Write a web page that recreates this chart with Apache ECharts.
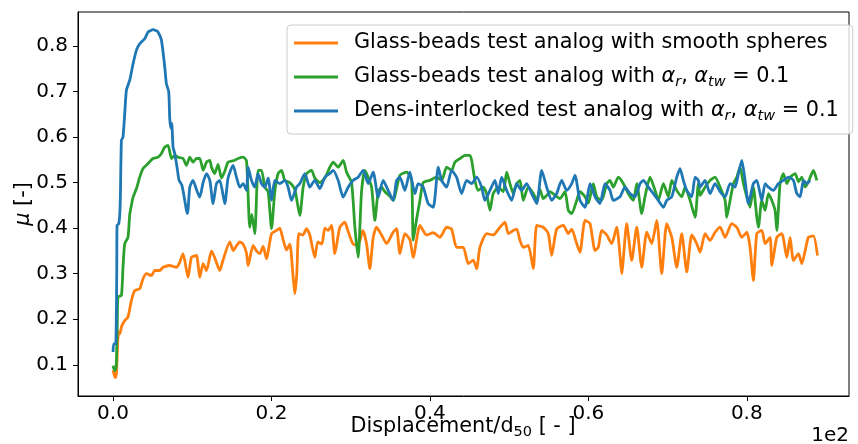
<!DOCTYPE html>
<html>
<head>
<meta charset="utf-8">
<script src="https://cdn.jsdelivr.net/npm/echarts@6.0.0/dist/echarts.min.js"></script>
<style>html,body{margin:0;padding:0;background:#fff;}#c{width:858px;height:444px;}</style>
</head>
<body>
<div id="c"></div>
<script>
// ---- data (x in Displacement/d50, axis shows x/100 with "1e2" offset) ----
const seriesNames = ['Glass-beads test analog with smooth spheres', 'Glass-beads test analog with alpha_r, alpha_tw = 0.1', 'Dens-interlocked test analog with alpha_r, alpha_tw = 0.1'];
const xTicks = [0, 20, 40, 60, 80];
const yTicks = [0.1, 0.2, 0.3, 0.4, 0.5, 0.6, 0.7, 0.8];

const orangeX = [0,0.15,0.28,0.43,0.59,0.72,0.85,1.10,1.48,1.89,2.32,2.74,3.37,3.79,4.22,4.85,5.27,5.90,6.32,7.16,8.01,8.42,8.84,9.47,9.90,10.53,10.95,11.37,11.80,12.43,12.84,13.48,13.89,14.74,15.16,15.62,16.00,16.42,16.85,17.05,17.68,18.11,18.53,18.95,19.37,20.01,20.64,21.05,21.47,21.90,22.32,22.70,22.95,23.20,23.45,23.96,24.43,24.84,25.47,25.85,26.36,26.74,27.15,27.58,28.00,28.63,29.26,29.64,30.27,30.91,31.54,32.00,32.42,32.84,33.27,33.90,34.53,35.36,35.79,36.21,36.84,37.47,37.89,38.74,39.58,40.42,41.26,42.11,42.74,43.37,44.21,44.84,45.47,45.90,46.31,47.16,47.99,48.84,49.47,49.89,50.52,50.95,51.37,51.78,52.41,53.05,53.48,54.31,54.94,55.37,56.00,56.84,57.47,57.90,58.53,58.94,59.58,60.21,60.84,61.26,61.68,62.32,62.95,63.58,64.00,64.21,64.84,65.47,66.11,66.74,67.37,68.00,68.63,69.26,69.89,70.53,71.16,71.79,72.42,73.05,73.68,74.10,74.73,75.36,75.99,76.63,77.26,78.10,78.74,79.37,80.00,80.41,80.83,81.26,81.89,82.31,82.94,83.16,83.79,84.42,85.05,85.47,85.88,86.52,86.94,87.36,87.78,88.41,88.92];
const orangeY = [0.088,0.078,0.072,0.080,0.150,0.172,0.168,0.185,0.197,0.205,0.241,0.263,0.267,0.289,0.300,0.296,0.307,0.307,0.314,0.318,0.314,0.325,0.344,0.292,0.336,0.340,0.292,0.322,0.307,0.350,0.335,0.307,0.330,0.370,0.351,0.362,0.370,0.365,0.345,0.318,0.362,0.350,0.344,0.360,0.333,0.388,0.395,0.400,0.375,0.352,0.365,0.300,0.256,0.300,0.388,0.385,0.399,0.385,0.336,0.370,0.365,0.400,0.395,0.406,0.344,0.402,0.413,0.395,0.366,0.362,0.395,0.366,0.311,0.380,0.402,0.385,0.366,0.391,0.399,0.344,0.388,0.375,0.336,0.406,0.385,0.390,0.380,0.402,0.398,0.358,0.358,0.322,0.330,0.311,0.358,0.388,0.385,0.402,0.413,0.388,0.395,0.398,0.373,0.358,0.362,0.311,0.406,0.402,0.388,0.340,0.398,0.406,0.388,0.398,0.366,0.347,0.417,0.410,0.351,0.358,0.395,0.385,0.366,0.402,0.340,0.300,0.410,0.329,0.402,0.314,0.391,0.366,0.417,0.300,0.410,0.380,0.314,0.388,0.304,0.385,0.366,0.347,0.388,0.373,0.391,0.402,0.380,0.410,0.402,0.380,0.391,0.358,0.285,0.388,0.395,0.366,0.380,0.318,0.380,0.388,0.336,0.380,0.329,0.344,0.322,0.350,0.380,0.383,0.340];

const greenX = [0,0.09,0.21,0.40,0.53,0.63,1.06,1.26,1.48,1.89,2.11,2.32,2.53,2.96,3.37,3.79,4.42,5.05,5.68,6.11,6.53,6.95,7.38,7.79,8.21,8.84,9.27,9.69,10.10,10.53,10.95,11.37,11.80,12.22,12.43,12.84,13.26,13.69,14.11,14.52,15.16,15.79,16.42,16.85,17.26,17.52,17.90,18.31,18.74,19.16,19.58,20.01,20.42,20.84,21.27,21.68,22.32,22.95,23.58,24.00,24.43,25.06,25.47,26.11,26.74,27.37,27.79,28.42,29.05,29.48,30.11,30.53,30.94,31.37,31.79,32.21,32.64,33.05,33.47,33.90,34.32,34.95,35.36,36.21,37.06,37.69,37.89,38.32,38.74,39.15,40.00,40.85,41.48,42.11,42.74,43.16,43.79,44.42,45.05,45.27,45.68,46.10,46.73,47.16,47.58,47.99,48.63,49.26,49.69,50.10,50.52,50.95,51.37,51.78,52.41,53.05,53.48,53.89,54.31,54.74,55.15,56.42,57.05,57.47,57.90,58.53,58.94,59.58,59.99,60.62,61.05,61.68,62.32,62.73,63.15,63.78,64.41,65.04,65.68,66.11,66.74,67.15,67.78,68.42,68.83,69.47,70.10,70.53,71.16,71.79,72.21,72.84,73.47,73.89,74.10,74.73,75.36,75.99,76.63,77.26,77.47,77.89,78.31,78.74,79.15,79.57,80.00,80.41,80.83,81.26,81.46,81.89,82.31,82.73,83.16,83.57,83.79,84.20,84.62,85.05,85.47,86.10,86.52,86.94,87.36,87.78,88.41,88.84];
const greenY = [0.098,0.092,0.087,0.095,0.180,0.249,0.252,0.314,0.366,0.380,0.430,0.450,0.468,0.487,0.512,0.531,0.542,0.553,0.556,0.564,0.578,0.582,0.553,0.560,0.556,0.553,0.538,0.556,0.545,0.553,0.553,0.527,0.545,0.549,0.534,0.520,0.540,0.510,0.525,0.545,0.548,0.553,0.556,0.548,0.402,0.430,0.388,0.527,0.527,0.490,0.480,0.399,0.480,0.520,0.527,0.505,0.500,0.485,0.428,0.490,0.520,0.527,0.510,0.500,0.510,0.534,0.545,0.534,0.549,0.523,0.500,0.402,0.336,0.480,0.527,0.512,0.490,0.417,0.480,0.490,0.480,0.470,0.461,0.516,0.523,0.505,0.373,0.420,0.461,0.500,0.505,0.512,0.505,0.534,0.527,0.545,0.553,0.560,0.560,0.549,0.505,0.483,0.490,0.476,0.439,0.476,0.490,0.480,0.523,0.498,0.476,0.498,0.505,0.461,0.490,0.476,0.461,0.485,0.465,0.472,0.480,0.465,0.480,0.439,0.432,0.461,0.480,0.469,0.455,0.498,0.469,0.461,0.498,0.505,0.490,0.512,0.498,0.476,0.461,0.498,0.432,0.469,0.512,0.483,0.461,0.498,0.469,0.505,0.483,0.469,0.490,0.461,0.424,0.498,0.472,0.490,0.505,0.512,0.490,0.461,0.424,0.461,0.498,0.512,0.534,0.498,0.469,0.446,0.490,0.424,0.402,0.461,0.439,0.476,0.461,0.439,0.395,0.498,0.520,0.498,0.512,0.520,0.502,0.512,0.490,0.502,0.527,0.505];

const blueX = [0,0.09,0.34,0.47,0.51,0.72,0.85,0.93,1.06,1.26,1.48,1.69,2.11,2.53,2.96,3.37,4.00,4.42,4.64,5.05,5.39,5.68,6.11,6.53,6.74,7.03,7.16,7.29,7.41,7.58,7.79,8.08,8.34,8.68,9.06,9.35,9.47,9.69,10.10,10.53,10.95,11.37,11.80,12.22,12.63,13.06,13.48,14.11,14.52,15.16,15.58,16.00,16.42,16.85,17.05,17.48,17.90,18.31,18.74,19.16,19.58,20.01,20.42,21.05,21.68,22.10,22.53,23.16,23.58,24.21,24.84,25.47,26.11,26.74,27.37,27.79,28.42,29.05,29.68,30.31,30.94,31.58,32.21,32.84,33.47,34.10,34.73,35.36,35.79,36.21,36.84,37.47,38.10,38.52,39.15,39.78,40.42,41.05,41.48,42.11,42.74,43.37,44.00,44.63,45.27,45.90,46.53,46.94,47.58,48.21,48.63,49.05,49.69,50.32,50.95,51.58,52.21,52.84,53.48,54.11,54.74,55.37,56.00,56.63,57.27,57.90,58.31,58.94,59.58,60.21,60.84,61.47,62.10,62.73,63.15,63.99,64.62,65.26,65.89,66.52,66.94,67.57,68.20,68.83,69.47,69.89,70.53,71.16,71.57,71.99,72.42,73.05,73.47,73.89,74.10,74.73,75.36,75.99,76.63,77.26,77.89,78.52,78.94,79.37,79.78,80.20,80.83,81.26,81.89,82.31,82.73,83.36,83.99,84.62,85.26,85.88,86.31,86.73,87.15,87.57,87.99];
const blueY = [0.128,0.146,0.146,0.300,0.406,0.410,0.430,0.470,0.593,0.600,0.652,0.703,0.725,0.761,0.791,0.805,0.816,0.831,0.833,0.836,0.834,0.831,0.813,0.754,0.717,0.700,0.641,0.620,0.630,0.578,0.564,0.534,0.505,0.495,0.461,0.432,0.440,0.490,0.505,0.485,0.468,0.500,0.520,0.505,0.454,0.498,0.505,0.454,0.510,0.538,0.512,0.490,0.498,0.483,0.534,0.505,0.490,0.520,0.498,0.490,0.510,0.461,0.505,0.498,0.505,0.490,0.461,0.490,0.498,0.520,0.490,0.505,0.487,0.512,0.520,0.527,0.505,0.468,0.490,0.505,0.512,0.527,0.498,0.523,0.468,0.505,0.483,0.461,0.505,0.512,0.483,0.523,0.476,0.498,0.490,0.454,0.446,0.534,0.505,0.490,0.527,0.512,0.476,0.505,0.498,0.512,0.490,0.461,0.483,0.505,0.476,0.512,0.483,0.461,0.498,0.483,0.498,0.476,0.454,0.527,0.490,0.461,0.476,0.505,0.483,0.498,0.516,0.461,0.446,0.498,0.469,0.454,0.498,0.483,0.461,0.469,0.490,0.476,0.469,0.498,0.505,0.490,0.476,0.461,0.446,0.461,0.469,0.512,0.531,0.505,0.483,0.469,0.512,0.505,0.490,0.505,0.476,0.498,0.480,0.469,0.498,0.490,0.520,0.549,0.505,0.454,0.498,0.505,0.461,0.498,0.490,0.483,0.498,0.505,0.512,0.505,0.476,0.469,0.505,0.498,0.505];

// ---- chart ----
const FONT = 'DejaVu Sans';
function zip(xs, ys) { return xs.map((x, i) => [x, ys[i]]); }

const legendRich = {
  t: { fontFamily: FONT, fontSize: 20.8, lineHeight: 26, color: '#000' },
  m: { fontFamily: FONT, fontStyle: 'italic', fontSize: 20.8, lineHeight: 26, color: '#000' },
  s: { fontFamily: FONT, fontStyle: 'italic', fontSize: 14.5, lineHeight: 14, verticalAlign: 'bottom', color: '#000' }
};
const legendText = {};
legendText[seriesNames[0]] = '{t|Glass-beads test analog with smooth spheres}';
legendText[seriesNames[1]] = '{t|Glass-beads test analog with }{m|α}{s|r}{t|, }{m|α}{s|tw}{t| = 0.1}';
legendText[seriesNames[2]] = '{t|Dens-interlocked test analog with }{m|α}{s|r}{t|, }{m|α}{s|tw}{t| = 0.1}';

const colors = ['#ff7f0e', '#2ca02c', '#1f77b4'];
const datasets = [zip(orangeX, orangeY), zip(greenX, greenY), zip(blueX, blueY)];

const chart = echarts.init(document.getElementById('c'), null, { renderer: 'canvas' });
chart.setOption({
  animation: false,
  backgroundColor: '#ffffff',
  grid: { left: 78, right: 9, top: 12, bottom: 48, show: true, borderColor: '#000', borderWidth: 1, backgroundColor: 'transparent' },
  xAxis: {
    type: 'value', min: -4.42, max: 92.9,
    axisLine: { show: true, onZero: false, lineStyle: { color: '#000', width: 1 } },
    axisTick: { show: true, length: 5, lineStyle: { color: '#000', width: 1 }, customValues: xTicks },
    axisLabel: { customValues: xTicks, margin: 8, color: '#000', fontFamily: FONT, fontSize: 20,
      formatter: v => (v / 100).toFixed(1) },
    splitLine: { show: false }
  },
  yAxis: {
    type: 'value', min: 0.0314, max: 0.8748,
    axisLine: { show: true, onZero: false, lineStyle: { color: '#000', width: 1 } },
    axisTick: { show: true, length: 5, lineStyle: { color: '#000', width: 1 }, customValues: yTicks },
    axisLabel: { customValues: yTicks, margin: 10, color: '#000', fontFamily: FONT, fontSize: 20,
      formatter: v => v.toFixed(1) },
    splitLine: { show: false }
  },
  legend: {
    orient: 'vertical', left: 287, top: 25,
    data: seriesNames,
    icon: 'rect', itemWidth: 44, itemHeight: 3, itemGap: 8,
    padding: [5, 14, 10, 7],
    backgroundColor: 'rgba(255,255,255,0.8)', borderColor: '#cccccc', borderWidth: 1, borderRadius: 4,
    formatter: n => legendText[n],
    textStyle: { fontFamily: FONT, fontSize: 20.8, lineHeight: 26, color: '#000', padding: [0, 0, 0, 11], rich: legendRich }
  },
  series: seriesNames.map((n, i) => ({
    name: n, type: 'line', data: datasets[i], showSymbol: false, symbol: 'none', smooth: 0.2,
    lineStyle: { color: colors[i], width: 2.8, join: 'round' }, itemStyle: { color: colors[i] },
    z: 2 + i, clip: true
  })),
  graphic: [
    { type: 'text', x: 24, y: 204, rotation: Math.PI / 2,
      style: { text: '{m|μ}{t| [-]}', align: 'center', verticalAlign: 'middle',
        rich: { m: { fontFamily: FONT, fontStyle: 'italic', fontSize: 20.8, fill: '#000' }, t: { fontFamily: FONT, fontSize: 20.8, fill: '#000' } } } },
    { type: 'text', x: 463, y: 427,
      style: { text: '{t|Displacement/d}{s|50}{t| [ - ]}', align: 'center', verticalAlign: 'middle',
        rich: { t: { fontFamily: FONT, fontSize: 20.8, lineHeight: 26, fill: '#000' }, s: { fontFamily: FONT, fontSize: 14.5, lineHeight: 14, verticalAlign: 'bottom', fill: '#000' } } } },
    { type: 'text', x: 849, y: 436,
      style: { text: '1e2', align: 'right', verticalAlign: 'middle', fontFamily: FONT, fontSize: 20, fill: '#000' } }
  ]
});
</script>
</body>
</html>
